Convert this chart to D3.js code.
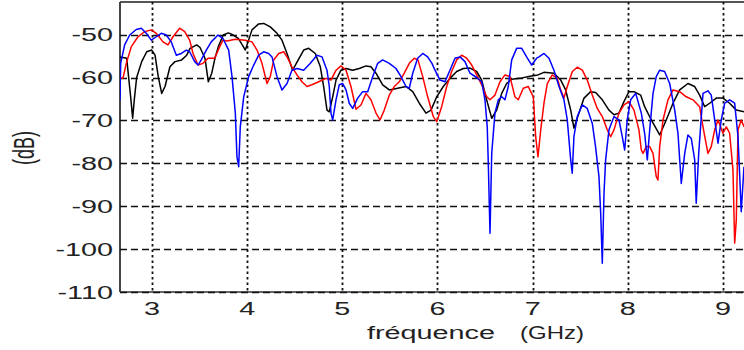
<!DOCTYPE html>
<html>
<head>
<meta charset="utf-8">
<script src="https://cdn.jsdelivr.net/npm/d3@7"></script>
<style>
  html, body { margin: 0; padding: 0; background: #fff; }
  svg { display: block; }
  text { font-family: "Liberation Sans", Arial, sans-serif; fill: #222; }
</style>
</head>
<body>
<svg id="chart" width="744" height="350"></svg>
<script>
// ---- data (frequency in GHz, level in dB) ----
const xTicks = [3, 4, 5, 6, 7, 8, 9];
const xTickLabels = ["3", "4", "5", "6", "7", "8", "9"];
const yTicks = [-110, -100, -90, -80, -70, -60, -50];
const yTickLabels = ["-110", "-100", "-90", "-80", "-70", "-60", "-50"];
const xDomain = [2.664, 9.221];
const yDomain = [-110, -42.4];
const xTitle = "fréquence";
const xUnit = "(GHz)";
const yTitle = "(dB)";

const seriesBlack = [
  [2.664,-55.2],[2.734,-55.5],[2.776,-64.5],[2.797,-69.5],[2.814,-65.2],[2.839,-60.0],[2.892,-56.3],[2.945,-54.0],
  [2.997,-53.6],[3.032,-54.8],[3.066,-59.8],[3.102,-63.7],[3.137,-62.1],[3.189,-57.5],[3.242,-56.3],[3.312,-55.9],
  [3.365,-54.8],[3.400,-53.2],[3.470,-52.4],[3.505,-53.0],[3.557,-55.5],[3.592,-61.0],[3.628,-59.0],[3.662,-55.5],
  [3.697,-52.8],[3.749,-50.1],[3.802,-49.6],[3.854,-50.1],[3.907,-50.9],[3.960,-52.8],[3.981,-53.6],[4.051,-48.9],
  [4.121,-47.5],[4.174,-47.4],[4.243,-48.2],[4.314,-49.7],[4.366,-51.3],[4.419,-54.4],[4.478,-58.3],[4.524,-56.4],
  [4.594,-53.6],[4.647,-53.2],[4.716,-54.4],[4.769,-57.5],[4.804,-62.1],[4.839,-67.6],[4.863,-68.0],[4.899,-64.5],
  [4.934,-60.6],[4.986,-58.3],[5.039,-57.9],[5.109,-58.3],[5.178,-57.9],[5.249,-57.3],[5.301,-57.5],[5.354,-59.0],
  [5.424,-61.7],[5.494,-62.9],[5.582,-62.5],[5.669,-62.1],[5.740,-63.3],[5.809,-66.0],[5.879,-68.3],[5.932,-67.6],
  [5.992,-64.5],[6.061,-62.1],[6.131,-60.2],[6.202,-58.6],[6.271,-57.9],[6.342,-57.8],[6.412,-58.6],[6.465,-60.6],
  [6.517,-65.2],[6.570,-69.5],[6.622,-67.6],[6.675,-63.7],[6.727,-61.4],[6.780,-60.4],[6.867,-60.2],[6.972,-59.7],
  [7.056,-59.4],[7.119,-58.8],[7.224,-59.0],[7.295,-60.6],[7.347,-62.9],[7.400,-67.6],[7.434,-71.8],[7.487,-68.3],
  [7.540,-64.8],[7.610,-63.3],[7.662,-63.5],[7.732,-65.2],[7.802,-67.6],[7.855,-68.7],[7.907,-68.3],[7.960,-65.6],
  [8.012,-63.3],[8.065,-63.3],[8.135,-64.1],[8.177,-66.8],[8.247,-69.9],[8.335,-73.4],[8.404,-69.9],[8.475,-66.0],
  [8.545,-62.9],[8.632,-61.4],[8.703,-62.1],[8.755,-64.1],[8.808,-66.8],[8.860,-66.0],[8.930,-64.8],[9.000,-64.8],
  [9.070,-66.0],[9.140,-67.6],[9.221,-68.0]
];

const seriesRed = [
  [2.664,-60.2],[2.696,-60.1],[2.730,-56.7],[2.783,-52.8],[2.853,-50.5],[2.924,-49.3],[2.993,-48.9],[3.045,-49.7],
  [3.116,-51.7],[3.168,-52.4],[3.221,-50.5],[3.291,-48.5],[3.344,-49.3],[3.396,-51.3],[3.431,-54.4],[3.484,-57.1],
  [3.536,-56.7],[3.589,-55.5],[3.659,-55.5],[3.712,-52.8],[3.746,-51.3],[3.788,-51.5],[3.876,-51.1],[3.981,-51.3],
  [4.051,-51.7],[4.104,-53.6],[4.156,-56.7],[4.209,-61.4],[4.243,-59.8],[4.279,-55.9],[4.332,-54.4],[4.384,-54.0],
  [4.419,-55.2],[4.471,-57.5],[4.524,-59.4],[4.576,-61.0],[4.629,-62.1],[4.681,-61.7],[4.752,-61.0],[4.829,-60.2],
  [4.881,-60.6],[4.934,-58.3],[4.986,-57.3],[5.039,-58.3],[5.091,-62.1],[5.144,-67.4],[5.196,-66.4],[5.249,-63.7],
  [5.301,-65.2],[5.354,-68.3],[5.396,-69.9],[5.441,-67.6],[5.494,-64.1],[5.546,-62.1],[5.599,-61.0],[5.651,-59.0],
  [5.704,-56.7],[5.756,-55.5],[5.795,-55.9],[5.845,-59.8],[5.897,-64.5],[5.956,-69.1],[5.992,-70.3],[6.044,-66.8],
  [6.097,-62.1],[6.149,-58.6],[6.202,-55.9],[6.254,-54.8],[6.307,-55.5],[6.360,-57.1],[6.412,-59.4],[6.465,-61.7],
  [6.517,-64.5],[6.552,-65.2],[6.604,-64.1],[6.657,-61.0],[6.709,-59.4],[6.762,-59.8],[6.814,-64.5],[6.849,-65.2],
  [6.902,-62.5],[6.954,-62.1],[7.007,-64.5],[7.032,-73.8],[7.056,-78.5],[7.085,-72.2],[7.119,-66.0],[7.154,-61.4],
  [7.206,-59.4],[7.259,-60.2],[7.295,-62.9],[7.329,-64.8],[7.364,-62.1],[7.417,-58.6],[7.469,-57.6],[7.522,-58.3],
  [7.574,-60.6],[7.627,-64.1],[7.679,-67.2],[7.732,-69.1],[7.784,-72.2],[7.820,-73.8],[7.855,-72.2],[7.907,-68.3],
  [7.960,-66.4],[8.012,-65.6],[8.065,-67.6],[8.117,-72.2],[8.142,-76.9],[8.160,-77.7],[8.194,-76.1],[8.230,-76.1],
  [8.265,-77.7],[8.299,-83.1],[8.317,-83.9],[8.335,-76.1],[8.370,-69.9],[8.422,-65.2],[8.475,-62.9],[8.545,-63.3],
  [8.614,-64.5],[8.685,-65.2],[8.755,-66.8],[8.790,-71.5],[8.842,-77.7],[8.877,-76.1],[8.913,-72.2],[8.948,-69.9],
  [9.000,-73.0],[9.035,-71.5],[9.070,-73.0],[9.105,-81.6],[9.123,-98.6],[9.140,-93.2],[9.158,-72.2],[9.192,-69.9],
  [9.221,-71.5]
];

const seriesBlue = [
  [2.664,-65.2],[2.671,-56.7],[2.713,-52.4],[2.766,-50.1],[2.835,-48.8],[2.888,-48.5],[2.940,-49.7],[2.993,-51.3],
  [3.045,-50.5],[3.098,-49.7],[3.150,-50.1],[3.203,-51.7],[3.256,-54.8],[3.308,-54.4],[3.361,-53.6],[3.396,-54.0],
  [3.449,-56.3],[3.484,-57.1],[3.518,-55.9],[3.571,-53.6],[3.623,-51.7],[3.694,-50.1],[3.746,-50.9],[3.806,-53.6],
  [3.841,-59.8],[3.876,-68.3],[3.893,-78.5],[3.911,-80.8],[3.928,-71.5],[3.964,-64.5],[4.016,-59.8],[4.069,-57.1],
  [4.121,-54.8],[4.174,-54.0],[4.226,-54.4],[4.261,-55.2],[4.314,-59.8],[4.366,-62.9],[4.419,-61.4],[4.471,-58.3],
  [4.524,-57.9],[4.594,-58.3],[4.664,-56.7],[4.734,-54.8],[4.787,-55.2],[4.839,-58.3],[4.863,-62.1],[4.881,-68.3],
  [4.899,-69.9],[4.934,-65.2],[4.968,-61.7],[5.004,-61.4],[5.039,-62.9],[5.073,-66.0],[5.109,-67.2],[5.162,-64.8],
  [5.214,-63.3],[5.267,-63.3],[5.319,-59.8],[5.372,-56.7],[5.424,-55.9],[5.494,-56.7],[5.564,-57.9],[5.617,-59.8],
  [5.669,-62.1],[5.704,-62.5],[5.740,-59.0],[5.792,-55.5],[5.845,-54.4],[5.897,-55.2],[5.942,-56.7],[5.974,-58.3],
  [6.026,-60.6],[6.079,-61.0],[6.131,-58.3],[6.184,-55.5],[6.237,-55.2],[6.289,-56.3],[6.342,-59.0],[6.412,-60.0],
  [6.465,-61.0],[6.499,-65.2],[6.523,-71.5],[6.534,-80.0],[6.552,-96.3],[6.570,-77.7],[6.604,-68.3],[6.639,-65.2],
  [6.675,-64.5],[6.709,-65.2],[6.744,-62.1],[6.780,-55.9],[6.832,-53.2],[6.885,-53.2],[6.937,-55.2],[6.990,-57.1],
  [7.042,-55.5],[7.067,-55.2],[7.119,-54.4],[7.172,-55.5],[7.224,-58.3],[7.277,-62.1],[7.329,-65.2],[7.364,-69.9],
  [7.400,-79.2],[7.416,-82.3],[7.434,-73.8],[7.469,-69.1],[7.522,-66.4],[7.574,-67.2],[7.627,-70.7],[7.661,-76.1],
  [7.697,-83.1],[7.715,-91.6],[7.732,-103.3],[7.750,-87.0],[7.767,-79.2],[7.802,-72.2],[7.855,-69.1],[7.907,-69.9],
  [7.942,-73.8],[7.967,-76.9],[7.994,-69.9],[8.030,-65.2],[8.083,-63.7],[8.142,-68.3],[8.177,-73.0],[8.205,-79.2],
  [8.230,-72.2],[8.265,-63.7],[8.299,-59.8],[8.335,-58.3],[8.387,-58.6],[8.440,-61.4],[8.493,-67.6],[8.527,-73.0],
  [8.562,-84.7],[8.598,-77.7],[8.632,-73.4],[8.667,-74.2],[8.703,-79.2],[8.719,-89.3],[8.745,-77.7],[8.790,-63.7],
  [8.842,-63.1],[8.877,-64.1],[8.913,-69.9],[8.948,-75.3],[8.982,-69.9],[9.018,-66.0],[9.070,-65.2],[9.123,-66.0],
  [9.158,-73.8],[9.192,-91.3],[9.221,-80.8]
];

const seriesList = [
  { name: "black", data: seriesBlack, color: "#000000" },
  { name: "red",   data: seriesRed,   color: "#ff0000" },
  { name: "blue",  data: seriesBlue,  color: "#0000ff" }
];

// ---- layout ----
const plot = { left: 120, right: 744, top: 2, bottom: 292 };
const stretch = 1.6;   // the reference's text is horizontally stretched

const svg = d3.select("#chart");
const x = d3.scaleLinear().domain(xDomain).range([plot.left, plot.right]);
const y = d3.scaleLinear().domain(yDomain).range([plot.bottom, plot.top]);

svg.append("defs").append("clipPath").attr("id", "clip")
  .append("rect").attr("x", plot.left).attr("y", plot.top)
  .attr("width", plot.right - plot.left + 10).attr("height", plot.bottom - plot.top);

// frame (left and top, bottom)
svg.append("line").attr("x1", plot.left).attr("x2", plot.right + 5)
  .attr("y1", plot.top).attr("y2", plot.top).attr("stroke", "#555").attr("stroke-width", 2);
svg.append("line").attr("x1", plot.left).attr("x2", plot.right + 5)
  .attr("y1", plot.bottom).attr("y2", plot.bottom).attr("stroke", "#666").attr("stroke-width", 2);
svg.append("line").attr("x1", plot.left).attr("x2", plot.left)
  .attr("y1", plot.top).attr("y2", plot.bottom).attr("stroke", "#444").attr("stroke-width", 2);

// grid
const grid = svg.append("g");
grid.selectAll("line.h").data(yTicks).join("line")
  .attr("class", "h")
  .attr("x1", plot.left).attr("x2", plot.right + 5)
  .attr("y1", d => Math.round(y(d)) + 0.5).attr("y2", d => Math.round(y(d)) + 0.5)
  .attr("stroke", "#111").attr("stroke-width", 1.6)
  .attr("stroke-dasharray", "7,4");
grid.selectAll("line.v").data(xTicks).join("line")
  .attr("class", "v")
  .attr("x1", d => Math.round(x(d)) + 0.5).attr("x2", d => Math.round(x(d)) + 0.5)
  .attr("y1", plot.top).attr("y2", plot.bottom)
  .attr("stroke", "#111").attr("stroke-width", 1.8)
  .attr("stroke-dasharray", "2.5,3");

// series
const line = d3.line().x(d => x(d[0])).y(d => y(d[1]));
const lines = svg.append("g").attr("clip-path", "url(#clip)");
lines.selectAll("path").data(seriesList).join("path")
  .attr("d", s => line(s.data))
  .attr("fill", "none")
  .attr("stroke", s => s.color)
  .attr("stroke-width", 1.5)
  .attr("stroke-linejoin", "round");

// tick labels
svg.append("g").selectAll("text").data(yTicks).join("text")
  .attr("transform", d => `translate(113,${y(d) + 6.5}) scale(${stretch},1)`)
  .attr("text-anchor", "end")
  .attr("font-size", 18)
  .text((d, i) => yTickLabels[i]);

svg.append("g").selectAll("text").data(xTicks).join("text")
  .attr("transform", d => `translate(${x(d)},315) scale(${stretch},1)`)
  .attr("text-anchor", "middle")
  .attr("font-size", 18)
  .text((d, i) => xTickLabels[i]);

// axis titles
svg.append("text")
  .attr("transform", `translate(367,339) scale(${stretch},1)`)
  .attr("font-size", 18)
  .text(xTitle);
svg.append("text")
  .attr("transform", `translate(520,339) scale(${stretch},1)`)
  .attr("font-size", 18)
  .attr("textLength", 64 / stretch)
  .attr("lengthAdjust", "spacingAndGlyphs")
  .text(xUnit);
svg.append("text")
  .attr("transform", `translate(34,148) scale(${stretch},1) rotate(-90)`)
  .attr("text-anchor", "middle")
  .attr("font-size", 18)
  .text(yTitle);
</script>
</body>
</html>
